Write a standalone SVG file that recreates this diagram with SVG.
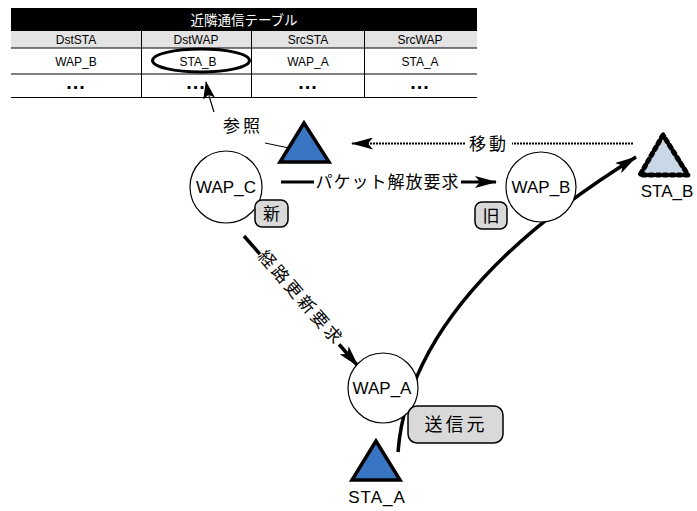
<svg xmlns="http://www.w3.org/2000/svg" width="697" height="511" viewBox="0 0 697 511">
<style>
.tb{font-family:"Liberation Sans",Arial,sans-serif;font-size:12px;fill:#000;text-anchor:middle}
.th{font-family:"Liberation Sans",Arial,sans-serif;font-size:12px;fill:#000;text-anchor:middle}
.dots{font-family:"Liberation Sans",Arial,sans-serif;font-size:20px;font-weight:bold;fill:#000;text-anchor:middle;letter-spacing:1px}
.jp{font-family:"Noto Sans CJK JP",sans-serif;fill:#000;text-anchor:middle}
.lbl{font-family:"Liberation Sans",Arial,sans-serif;font-size:17px;fill:#000;text-anchor:middle}
.node{fill:#fff;stroke:#000;stroke-width:1.2}
.badge{fill:#d9d9d9;stroke:#000;stroke-width:1.5}
.tri{fill:#3a75c4;stroke:#000;stroke-width:3.5;stroke-linejoin:miter}
.conn{fill:none;stroke:#000}
</style>
<defs>
<marker id="ah" viewBox="0 0 22 12" refX="21" refY="6" markerWidth="22" markerHeight="12" markerUnits="userSpaceOnUse" orient="auto">
<path d="M0,0 L22,6 L0,12 L5,6 z" fill="#000"/>
</marker>
<marker id="ahs" viewBox="0 0 18 12" refX="17" refY="6" markerWidth="18" markerHeight="12" markerUnits="userSpaceOnUse" orient="auto">
<path d="M0,0 L18,6 L0,12 L4,6 z" fill="#000"/>
</marker>
</defs>

<g id="table">
<rect x="11" y="8" width="466" height="23" fill="#000"/>
<text class="jp" x="244" y="25" font-size="13.5" style="fill:#fff">近隣通信テーブル</text>
<rect x="11" y="31" width="466" height="17" fill="#e3e3e3"/>
<line x1="11" y1="48" x2="477" y2="48" stroke="#000" stroke-width="1"/>
<line x1="11" y1="74" x2="477" y2="74" stroke="#000" stroke-width="1"/>
<line x1="11" y1="97.5" x2="477" y2="97.5" stroke="#000" stroke-width="1"/>
<line x1="141.5" y1="31" x2="141.5" y2="97.5" stroke="#000" stroke-width="1"/>
<line x1="251.5" y1="31" x2="251.5" y2="97.5" stroke="#000" stroke-width="1"/>
<line x1="364.5" y1="31" x2="364.5" y2="97.5" stroke="#000" stroke-width="1"/>
<text class="th" x="76" y="44">DstSTA</text>
<text class="th" x="196" y="44">DstWAP</text>
<text class="th" x="308" y="44">SrcSTA</text>
<text class="th" x="420" y="44">SrcWAP</text>
<text class="tb" x="76" y="66">WAP_B</text>
<text class="tb" x="198" y="66">STA_B</text>
<text class="tb" x="308" y="66">WAP_A</text>
<text class="tb" x="420" y="66">STA_A</text>
<text class="dots" x="76" y="89">...</text>
<text class="dots" x="196" y="89">...</text>
<text class="dots" x="308" y="89">...</text>
<text class="dots" x="420" y="89">...</text>
<ellipse cx="201" cy="60.5" rx="48.5" ry="11.5" fill="none" stroke="#000" stroke-width="3"/>
</g>

<g id="connectors">
<path class="conn" d="M214,112 Q209,98 206,82" stroke-width="1.2" marker-end="url(#ahs)"/>
<line class="conn" x1="265" y1="143" x2="289" y2="148" stroke-width="1"/>
<line class="conn" x1="633" y1="143.5" x2="352" y2="143.5" stroke-width="2" stroke-dasharray="2,1" marker-end="url(#ah)"/>
<rect x="466" y="133" width="46" height="20" fill="#fff"/>
<text class="jp" x="489" y="150" font-size="17" letter-spacing="3">移動</text>
<line class="conn" x1="281" y1="182" x2="496" y2="182" stroke-width="3" marker-end="url(#ah)"/>
<rect x="314" y="170" width="147" height="24" fill="#fff"/>
<text class="jp" x="387.5" y="188" font-size="17" letter-spacing="1">パケット解放要求</text>
<line class="conn" x1="244" y1="236" x2="358" y2="366" stroke-width="3.5" marker-end="url(#ah)"/>
<g transform="translate(301,298) rotate(49)">
<rect x="-60" y="-11" width="120" height="22" fill="#fff"/>
<text class="jp" x="0" y="6" font-size="17" letter-spacing="3">経路更新要求</text>
</g>
<path class="conn" d="M398,452 C405,360 470,260 636,157" stroke-width="3.5" marker-end="url(#ah)"/>
</g>

<g id="sta_top">
<polygon class="tri" points="304,123 280,162 329,162"/>
</g>
<text class="jp" x="243" y="132" font-size="17" letter-spacing="3">参照</text>

<g id="wap_c">
<circle class="node" cx="226" cy="187" r="36"/>
<text class="lbl" x="226" y="193">WAP_C</text>
<rect class="badge" x="255" y="200" width="33" height="27" rx="7"/>
<text class="jp" x="271.5" y="220" font-size="17">新</text>
</g>

<g id="wap_b">
<circle class="node" cx="541" cy="187" r="35"/>
<text class="lbl" x="541" y="193">WAP_B</text>
<rect class="badge" x="475" y="202" width="32" height="27" rx="7"/>
<text class="jp" x="491" y="222" font-size="17">旧</text>
</g>

<g id="wap_a">
<circle class="node" cx="383" cy="388" r="35"/>
<text class="lbl" x="382" y="394">WAP_A</text>
</g>

<g id="src_badge">
<rect class="badge" x="408" y="406" width="95" height="37" rx="9"/>
<text class="jp" x="456" y="431" font-size="18" letter-spacing="3">送信元</text>
</g>

<g id="sta_a">
<polygon class="tri" points="376,441 352,480 400,480"/>
<text class="lbl" x="377" y="503" letter-spacing="1">STA_A</text>
</g>

<g id="sta_b">
<polygon points="663,135 640,175 688,175" fill="#c9d7e6" stroke="#000" stroke-width="5" stroke-dasharray="3,4" stroke-linecap="round" stroke-linejoin="round"/>
<text class="lbl" x="667" y="197">STA_B</text>
</g>
</svg>
